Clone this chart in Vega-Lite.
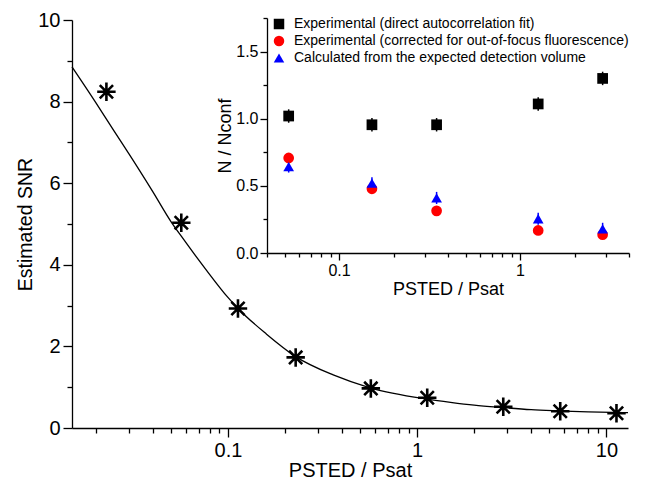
{
  "$schema": "https://vega.github.io/schema/vega-lite/v6.json",
  "width": 556,
  "height": 408,
  "autosize": "none",
  "padding": {"left": 72, "top": 20, "right": 27, "bottom": 67},
  "background": "white",
  "config": {
    "view": {"stroke": null},
    "font": "Liberation Sans",
    "axis": {
      "domainColor": "black", "domainWidth": 1.3, "tickColor": "black", "tickWidth": 1.3,
      "labelColor": "black", "titleColor": "black", "grid": false,
      "labelFont": "Liberation Sans", "titleFont": "Liberation Sans", "titleFontWeight": "normal",
      "labelFlush": false, "labelOverlap": false, "labelBound": false
    }
  },
  "datasets": {
    "snr": [
      {"p": 0.0228, "snr": 8.24},
      {"p": 0.0567, "snr": 5.03},
      {"p": 0.113, "snr": 2.93},
      {"p": 0.228, "snr": 1.73},
      {"p": 0.569, "snr": 0.97},
      {"p": 1.13, "snr": 0.74},
      {"p": 2.85, "snr": 0.52},
      {"p": 5.7, "snr": 0.41},
      {"p": 11.3, "snr": 0.36}
    ],
    "fit": [
      {"p": 0.015, "snr": 8.85},
      {"p": 0.02, "snr": 7.98},
      {"p": 0.025, "snr": 7.28},
      {"p": 0.03, "snr": 6.72},
      {"p": 0.04, "snr": 5.8},
      {"p": 0.05, "snr": 5.06},
      {"p": 0.0567, "snr": 4.7},
      {"p": 0.0755, "snr": 3.92},
      {"p": 0.1, "snr": 3.2},
      {"p": 0.113, "snr": 2.93},
      {"p": 0.16, "snr": 2.3},
      {"p": 0.228, "snr": 1.75},
      {"p": 0.36, "snr": 1.3},
      {"p": 0.569, "snr": 0.98},
      {"p": 1.13, "snr": 0.71},
      {"p": 1.5, "snr": 0.63},
      {"p": 2, "snr": 0.56},
      {"p": 2.85, "snr": 0.5},
      {"p": 4, "snr": 0.45},
      {"p": 5.7, "snr": 0.42},
      {"p": 8, "snr": 0.395},
      {"p": 11.3, "snr": 0.38},
      {"p": 13, "snr": 0.375}
    ],
    "ratio": [
      {"series": "Experimental (direct autocorrelation fit)", "p": 0.0527, "n": 1.02, "err": 0.05},
      {"series": "Experimental (direct autocorrelation fit)", "p": 0.152, "n": 0.955, "err": 0.05},
      {"series": "Experimental (direct autocorrelation fit)", "p": 0.346, "n": 0.955, "err": 0.05},
      {"series": "Experimental (direct autocorrelation fit)", "p": 1.26, "n": 1.11, "err": 0.05},
      {"series": "Experimental (direct autocorrelation fit)", "p": 2.86, "n": 1.3, "err": 0.05},
      {"series": "Experimental (corrected for out-of-focus fluorescence)", "p": 0.0527, "n": 0.708, "err": 0.02},
      {"series": "Experimental (corrected for out-of-focus fluorescence)", "p": 0.152, "n": 0.478, "err": 0.02},
      {"series": "Experimental (corrected for out-of-focus fluorescence)", "p": 0.346, "n": 0.314, "err": 0.02},
      {"series": "Experimental (corrected for out-of-focus fluorescence)", "p": 1.26, "n": 0.168, "err": 0.02},
      {"series": "Experimental (corrected for out-of-focus fluorescence)", "p": 2.86, "n": 0.136, "err": 0.02},
      {"series": "Calculated from the expected detection volume", "p": 0.0527, "n": 0.644, "err": 0.045},
      {"series": "Calculated from the expected detection volume", "p": 0.152, "n": 0.52, "err": 0.045},
      {"series": "Calculated from the expected detection volume", "p": 0.346, "n": 0.41, "err": 0.045},
      {"series": "Calculated from the expected detection volume", "p": 1.26, "n": 0.255, "err": 0.045},
      {"series": "Calculated from the expected detection volume", "p": 2.86, "n": 0.18, "err": 0.045}
    ]
  },
  "layer": [
    {
      "encoding": {
        "x": {
          "field": "p", "type": "quantitative",
          "scale": {"type": "log", "domain": [0.015, 13], "nice": false},
          "axis": {
            "orient": "bottom",
            "title": "PSTED / Psat",
            "titleFontSize": 20, "titlePadding": 0,
            "labelFontSize": 20, "labelPadding": 3,
            "values": [0.02, 0.03, 0.04, 0.05, 0.06, 0.07, 0.08, 0.09, 0.1, 0.2, 0.3, 0.4, 0.5, 0.6, 0.7, 0.8, 0.9, 1, 2, 3, 4, 5, 6, 7, 8, 9, 10],
            "labelExpr": "indexof([0.1, 1, 10], datum.value) >= 0 ? toString(datum.value) : ''",
            "tickSize": {"condition": {"test": "indexof([0.1, 1, 10], datum.value) >= 0", "value": 9}, "value": 5}
          }
        },
        "y": {
          "field": "snr", "type": "quantitative",
          "scale": {"domain": [0, 10], "nice": false},
          "axis": {
            "orient": "left",
            "title": "Estimated SNR",
            "titleFontSize": 19.5, "titlePadding": 2,
            "labelFontSize": 20, "labelPadding": 3,
            "values": [0, 1, 2, 3, 4, 5, 6, 7, 8, 9, 10],
            "labelExpr": "datum.value % 2 == 0 ? toString(datum.value) : ''",
            "tickSize": {"condition": {"test": "datum.value % 2 == 0", "value": 9}, "value": 5}
          }
        }
      },
      "layer": [
        {
          "data": {"name": "fit"},
          "mark": {"type": "line", "color": "black", "strokeWidth": 1.3, "interpolate": "monotone"}
        },
        {
          "data": {"name": "snr"},
          "mark": {
            "type": "point", "filled": false, "color": "black", "strokeWidth": 2.6, "size": 340, "opacity": 1,
            "shape": "M-1,0L1,0M0,-1L0,1M-0.72,-0.72L0.72,0.72M-0.72,0.72L0.72,-0.72"
          }
        }
      ]
    },
    {
      "data": {"name": "ratio"},
      "encoding": {
        "x": {
          "field": "p", "type": "quantitative",
          "scale": {"type": "log", "domain": [0.04, 4], "nice": false, "range": [195, 557]},
          "axis": {
            "orient": "bottom", "offset": -175,
            "title": "PSTED / Psat",
            "titleFontSize": 18, "titlePadding": 2,
            "labelFontSize": 16, "labelPadding": 2,
            "values": [0.04, 0.05, 0.06, 0.07, 0.08, 0.09, 0.1, 0.2, 0.3, 0.4, 0.5, 0.6, 0.7, 0.8, 0.9, 1, 2, 3, 4],
            "labelExpr": "indexof([0.1, 1], datum.value) >= 0 ? toString(datum.value) : ''",
            "tickSize": {"condition": {"test": "indexof([0.1, 1], datum.value) >= 0", "value": 7}, "value": 4}
          }
        },
        "y": {
          "field": "n", "type": "quantitative",
          "scale": {"domain": [0, 1.75], "nice": false, "range": [233, -2]},
          "axis": {
            "orient": "left", "offset": -195,
            "title": "N / Nconf",
            "titleFontSize": 18, "titlePadding": 1,
            "labelFontSize": 16, "labelPadding": 2,
            "values": [0, 0.25, 0.5, 0.75, 1, 1.25, 1.5, 1.75],
            "format": ".1f",
            "labelExpr": "datum.value * 2 == floor(datum.value * 2) ? format(datum.value, '.1f') : ''",
            "tickSize": {"condition": {"test": "datum.value * 2 == floor(datum.value * 2)", "value": 7}, "value": 4}
          }
        },
        "color": {
          "field": "series", "type": "nominal",
          "scale": {
            "domain": ["Experimental (direct autocorrelation fit)", "Experimental (corrected for out-of-focus fluorescence)", "Calculated from the expected detection volume"],
            "range": ["#000000", "#ff0000", "#0000ff"]
          },
          "legend": {
            "orient": "none", "legendX": 200, "legendY": -3, "title": null,
            "labelFontSize": 14, "labelColor": "black", "labelOffset": 8, "labelLimit": 0,
            "symbolSize": 110, "symbolStrokeWidth": 0, "rowPadding": 3, "symbolOpacity": 1
          }
        }
      },
      "layer": [
        {
          "mark": {"type": "errorbar", "thickness": 1.5},
          "encoding": {"yError": {"field": "err"}}
        },
        {
          "mark": {"type": "point", "filled": true, "size": 115, "opacity": 1},
          "encoding": {
            "shape": {
              "field": "series", "type": "nominal",
              "scale": {
                "domain": ["Experimental (direct autocorrelation fit)", "Experimental (corrected for out-of-focus fluorescence)", "Calculated from the expected detection volume"],
                "range": ["square", "circle", "triangle-up"]
              },
              "legend": {
                "orient": "none", "legendX": 200, "legendY": -3, "title": null,
                "labelFontSize": 14, "labelColor": "black", "labelOffset": 8, "labelLimit": 0,
                "symbolSize": 110, "symbolStrokeWidth": 0, "rowPadding": 3, "symbolOpacity": 1
              }
            }
          }
        }
      ]
    }
  ],
  "resolve": {
    "scale": {"x": "independent", "y": "independent"},
    "axis": {"x": "independent", "y": "independent"}
  }
}
